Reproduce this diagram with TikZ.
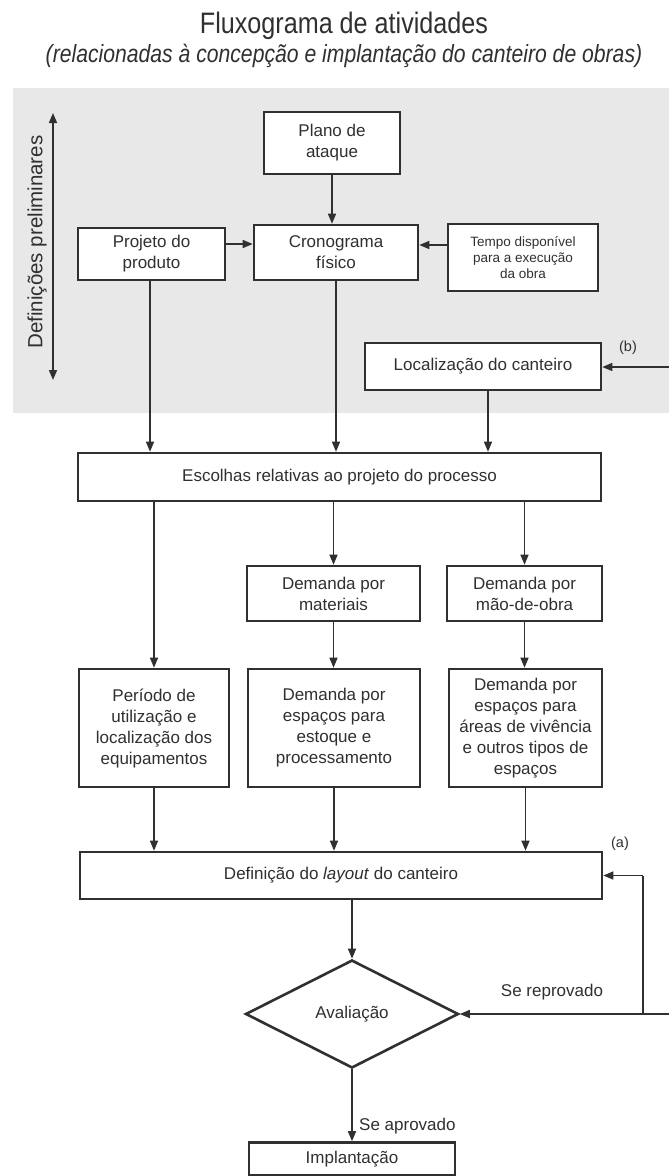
\documentclass[tikz,border=0pt]{standalone}
\usepackage{fontspec}
\setmainfont{Liberation Sans}
\newfontfamily\condfont[FakeStretch=0.85]{Liberation Sans}
\usetikzlibrary{arrows.meta,shapes.geometric}
\definecolor{ink}{HTML}{303030}
\definecolor{bggray}{HTML}{E8E8E8}
\begin{document}
\begin{tikzpicture}[x=1pt,y=-1pt,
  box/.style={draw=ink,line width=2.6pt,fill=white,align=center,inner sep=1pt,text=ink,
    font=\fontsize{17}{21}\selectfont},
  smallbox/.style={box,font=\fontsize{13.5}{16}\selectfont},
  arr/.style={draw=ink,line width=1.5pt,-{Triangle[length=10pt,width=8pt]}},
  ln/.style={draw=ink,line width=1.5pt},
  lbl/.style={text=ink,font=\fontsize{17}{21}\selectfont,inner sep=0pt},
  tag/.style={text=ink,font=\fontsize{14.5}{17}\selectfont,inner sep=0pt}]
\useasboundingbox (0,0) rectangle (669,1176);
\fill[white] (0,0) rectangle (669,1176);
\fill[bggray] (13,88) rectangle (669,413);

% titles
\node[text=ink,anchor=base,inner sep=0pt,font=\condfont\fontsize{29.6}{34}\selectfont] (title) at (344,33) {Fluxograma de atividades};
\node[text=ink,anchor=base,inner sep=0pt,font=\condfont\itshape\fontsize{24.9}{30}\selectfont] (subtitle) at (344,62) {(relacionadas à concepção e implantação do canteiro de obras)};

% side arrow
\coordinate (da1) at (53,113);
\coordinate (da2) at (53,380);
\draw[ln,{Triangle[length=10pt,width=8pt]}-{Triangle[length=10pt,width=8pt]}] (da1) -- (da2);
\node[rotate=90,text=ink,inner sep=0pt,font=\fontsize{20.5}{24}\selectfont] (defs) at (37,242) {Definições preliminares};

% boxes
\node[box,minimum width=136pt,minimum height=62pt] (plano) at (332,143) {Plano de\\ataque};
\node[box,minimum width=164pt,minimum height=55pt] (crono) at (336,252.5) {Cronograma\\físico};
\node[box,minimum width=147pt,minimum height=52pt] (projeto) at (151.5,254) {Projeto do\\produto};
\node[smallbox,minimum width=150pt,minimum height=67pt] (tempo) at (523,257.5) {Tempo disponível\\para a execução\\da obra};
\node[box,minimum width=236pt,minimum height=47pt] (local) at (483,366.5) {Localização do canteiro};
\node[box,minimum width=523pt,minimum height=48pt] (escolhas) at (339.5,477) {Escolhas relativas ao projeto do processo};
\node[box,minimum width=173pt,minimum height=55pt] (dmat) at (333.5,593.5) {Demanda por\\materiais};
\node[box,minimum width=155pt,minimum height=55pt] (dmo) at (524.5,593.5) {Demanda por\\mão-de-obra};
\node[box,minimum width=150pt,minimum height=118pt] (periodo) at (154,728) {Período de\\utilização e\\localização dos\\equipamentos};
\node[box,minimum width=172pt,minimum height=118pt] (estoque) at (334,728) {Demanda por\\espaços para\\estoque e\\processamento};
\node[box,minimum width=153pt,minimum height=118pt] (areas) at (525.5,728) {Demanda por\\espaços para\\áreas de vivência\\e outros tipos de\\espaços};
\node[box,minimum width=522pt,minimum height=47pt] (layout) at (341,875.5) {Definição do \textit{layout} do canteiro};
\node[box,diamond,aspect=1.97,minimum width=213pt,minimum height=108pt,inner sep=0pt] (aval) at (352,1014) {Avaliação};
\node[box,minimum width=206pt,minimum height=33pt] (impl) at (352,1159) {Implantação};

% connectors, upper part
\draw[arr] (plano.south) -- (plano.south |- crono.north);
\draw[arr] (projeto.east |- 0,244) -- (crono.west |- 0,244);
\draw[arr] (tempo.west |- 0,245) -- (crono.east |- 0,245);
\coordinate (bin) at (669,367);
\draw[arr] (bin) -- (local.east |- bin);
\node[tag] (btag) at (628,348) {(b)};
\draw[arr] ([xshift=-1.5pt]projeto.south) -- ([xshift=-1.5pt]projeto.south |- escolhas.north);
\draw[arr] (crono.south) -- (crono.south |- escolhas.north);
\draw[arr] ([xshift=5pt]local.south) -- ([xshift=5pt]local.south |- escolhas.north);

% middle
\draw[arr] (periodo.north |- escolhas.south) -- (periodo.north);
\draw[arr] (dmat.north |- escolhas.south) -- (dmat.north);
\draw[arr] (dmo.north |- escolhas.south) -- (dmo.north);
\draw[arr] (dmat.south) -- (dmat.south |- estoque.north);
\draw[arr] (dmo.south) -- (dmo.south |- areas.north);
\draw[arr] (periodo.south) -- (periodo.south |- layout.north);
\draw[arr] (estoque.south) -- (estoque.south |- layout.north);
\draw[arr] (areas.south) -- (areas.south |- layout.north);
\node[tag] (atag) at (620,844) {(a)};

% bottom
\draw[arr] (aval.north |- layout.south) -- (aval.north);
\coordinate (rin) at (669,1014);
\coordinate (fbj) at (643,1014);
\coordinate (fbt) at (643,875.5);
\draw[arr] (rin) -- (aval.east);
\draw[ln] (fbj) -- (fbt);
\draw[arr] (fbt) -- (layout.east);
\node[lbl] (repr) at (552,992) {Se reprovado};
\draw[arr] (aval.south) -- (impl.north);
\node[lbl,anchor=west] (apr) at (359,1126) {Se aprovado};
\end{tikzpicture}
\end{document}
